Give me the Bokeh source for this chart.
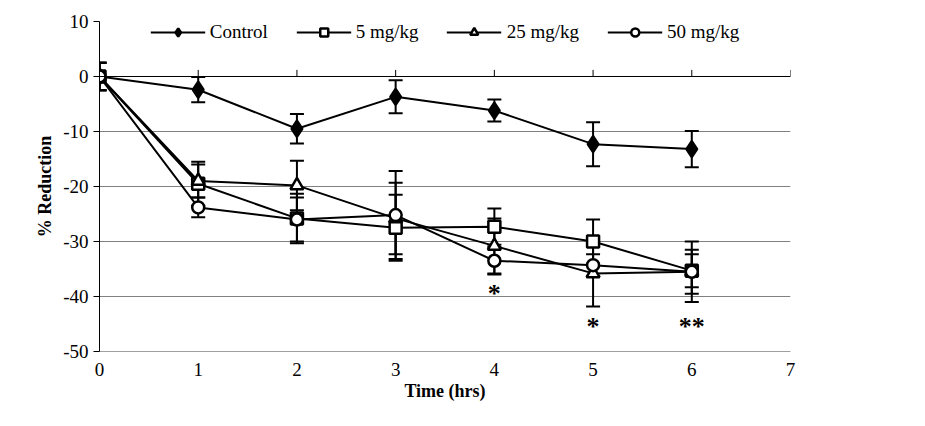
from bokeh.plotting import figure
from bokeh.models import Whisker, ColumnDataSource, Span, Label, Legend, LegendItem, FixedTicker
from bokeh.embed import file_html
from bokeh.resources import INLINE

time = [0, 1, 2, 3, 4, 5, 6]
control = [0, -2.4, -9.5, -3.7, -6.2, -12.3, -13.2]
control_err = [2.5, 2.3, 2.7, 3.0, 2.0, 4.0, 3.3]
mg5 = [0, -19.5, -25.8, -27.5, -27.3, -30.0, -35.3]
mg5_err = [2.5, 4.0, 4.5, 6.0, 3.3, 4.0, 3.0]
mg25 = [0, -19.0, -19.8, -25.8, -30.8, -35.8, -35.5]
mg25_err = [2.5, 3.0, 4.5, 6.5, 5.0, 6.0, 5.5]
mg50 = [0, -23.8, -26.0, -25.2, -33.5, -34.3, -35.5]
mg50_err = [2.5, 1.8, 4.0, 8.0, 2.5, 2.0, 4.0]
y_ticks = [-50, -40, -30, -20, -10, 0, 10]

series = [
    ("Control", control, control_err, "diamond", "black", 16),
    ("5 mg/kg", mg5, mg5_err, "square", "white", 12),
    ("25 mg/kg", mg25, mg25_err, "triangle", "white", 13),
    ("50 mg/kg", mg50, mg50_err, "circle", "white", 12),
]

font = "Liberation Serif"

p = figure(width=909, height=410, x_range=(0, 7), y_range=(-50, 10),
           output_backend="svg", toolbar_location=None, min_border_left=99,
           min_border_right=119, min_border_top=21, min_border_bottom=59)
p.outline_line_color = None
p.xgrid.grid_line_color = None
p.ygrid.grid_line_color = "#808080"
p.ygrid.ticker = FixedTicker(ticks=y_ticks)
p.yaxis.ticker = FixedTicker(ticks=y_ticks)
p.yaxis.major_label_overrides = {t: str(t) for t in y_ticks}
p.xaxis.ticker = FixedTicker(ticks=time + [7])
for ax in (p.xaxis, p.yaxis):
    ax.major_label_text_font = font
    ax.major_label_text_font_size = "19px"
    ax.major_label_text_color = "black"
    ax.axis_label_text_font = font
    ax.axis_label_text_font_size = "18px"
    ax.axis_label_text_font_style = "bold"
    ax.axis_label_text_color = "black"
    ax.minor_tick_line_color = None
p.xaxis.axis_label = "Time (hrs)"
p.yaxis.axis_label = "% Reduction"
p.xaxis.axis_line_color = "#a0a0a0"
p.xaxis.major_tick_line_color = None
p.xaxis.axis_label_standoff = 2
p.yaxis.major_tick_in = 0
p.yaxis.major_tick_out = 6

p.add_layout(Span(location=0, dimension="width", line_color="black", line_width=1.2))
p.segment(x0=time[1:] + [7], y0=[0] * 7, x1=time[1:] + [7], y1=[1.2] * 7, line_color="black")

items = []
for name, vals, err, marker, fill, size in series:
    src = ColumnDataSource(dict(x=time, y=vals,
                                lo=[v - e for v, e in zip(vals, err)],
                                hi=[v + e for v, e in zip(vals, err)]))
    ln = p.line("x", "y", source=src, line_color="black", line_width=2)
    sc = p.scatter("x", "y", source=src, marker=marker, size=size, fill_color=fill,
                   line_color="black", line_width=2.5)
    w = Whisker(base="x", lower="lo", upper="hi", source=src, line_color="black", line_width=2)
    w.upper_head.line_width = 2
    w.lower_head.line_width = 2
    w.upper_head.size = 14
    w.lower_head.size = 14
    p.add_layout(w)
    items.append(LegendItem(label=name, renderers=[ln, sc]))

legend = Legend(items=items, orientation="horizontal", location="top_center",
                label_text_font=font, label_text_font_size="19px",
                label_text_color="black",
                background_fill_color="white", border_line_color=None,
                glyph_width=55, spacing=28, margin=0, padding=2)
p.add_layout(legend)

for x, y, t in [(4, -42, "*"), (5, -48, "*"), (6, -48, "**")]:
    p.add_layout(Label(x=x, y=y, text=t, text_font=font, text_font_size="26px",
                       text_font_style="bold", text_align="center", text_color="black"))

open("out.html", "w").write(file_html(p, INLINE))
